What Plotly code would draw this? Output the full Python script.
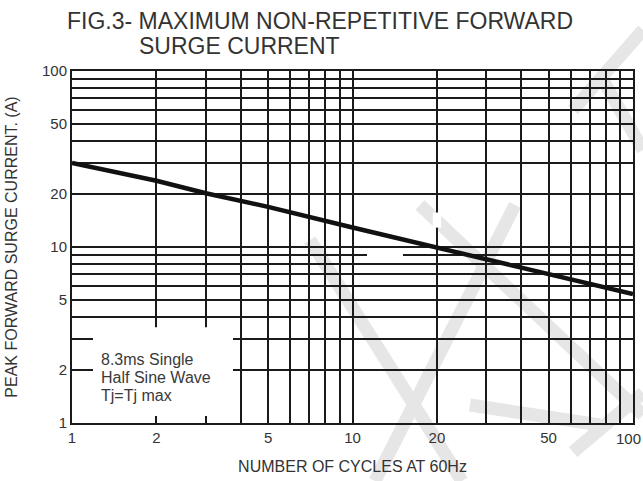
import plotly.graph_objects as go

# Data
cycles = [1, 2, 3, 5, 10, 20, 50, 100]
surge_current = [30, 23.8, 20.2, 16.9, 12.9, 9.9, 7.0, 5.4]

grid_vals = [1, 2, 3, 4, 5, 6, 7, 8, 9, 10, 20, 30, 40, 50, 60, 70, 80, 90, 100]
x_labels = ["1", "2", "", "", "5", "", "", "", "", "10", "20", "", "", "50", "", "", "", "", ""]
x_last_label = "100"
y_labels = ["1", "2", "", "", "5", "", "", "", "", "10", "20", "", "", "50", "", "", "", "", "100"]

title_line1 = "FIG.3- MAXIMUM NON-REPETITIVE FORWARD"
title_line2 = "SURGE CURRENT"
x_title = "NUMBER OF CYCLES AT 60Hz"
y_title = "PEAK FORWARD SURGE CURRENT. (A)"
note_lines = ["8.3ms Single", "Half Sine Wave", "Tj=Tj max"]

W, H = 643, 481
L, R, T, B = 72, 10, 71, 58
PW, PH = W - L - R, H - T - B


def px(x):
    return (x - L) / PW


def py(y):
    return (H - B - y) / PH


FONT = "Liberation Sans, Arial, sans-serif"
TXT = "#333333"

fig = go.Figure()
fig.add_trace(go.Scatter(x=cycles, y=surge_current, mode="lines",
                         line=dict(color="#111111", width=4.5),
                         hoverinfo="skip", showlegend=False))

axis_common = dict(
    type="log", range=[0, 2], tickvals=grid_vals, automargin=False,
    showgrid=True, gridcolor="#1a1a1a", gridwidth=2,
    showline=True, linecolor="#1a1a1a", linewidth=2, mirror=True,
    ticks="", zeroline=False, fixedrange=True, ticklabeloverflow="allow",
    tickfont=dict(family=FONT, size=15, color=TXT),
)

fig.update_xaxes(ticktext=x_labels, title=dict(text=x_title, font=dict(family=FONT, size=16, color=TXT), standoff=16), **axis_common)
fig.update_yaxes(ticktext=y_labels, title=dict(text=y_title, font=dict(family=FONT, size=16, color=TXT), standoff=20), **axis_common)

shapes = []
# watermark strokes (light gray, below grid)
wm = [
    ((310, 240), (462, 481)),
    ((515, 205), (375, 481)),
    ((420, 205), (643, 415)),
    ((573, 452), (643, 393)),
    ((470, 405), (600, 425)),
    ((643, 30), (573, 110)),
    ((600, 75), (643, 150)),
]
for (x0, y0), (x1, y1) in wm:
    shapes.append(dict(type="line", xref="paper", yref="paper",
                       x0=px(x0), y0=py(y0), x1=px(x1), y1=py(y1),
                       line=dict(color="#e6e6e6", width=13), layer="below"))

# white box behind the note
shapes.append(dict(type="rect", xref="paper", yref="paper",
                   x0=px(93), x1=0.287, y0=py(416), y1=0.272,
                   fillcolor="white", line=dict(width=0), layer="above"))
# small gaps in grid lines seen in the reference
shapes.append(dict(type="rect", xref="paper", yref="paper",
                   x0=px(367), x1=px(403), y0=0.470, y1=0.485,
                   fillcolor="white", line=dict(width=0), layer="above"))
shapes.append(dict(type="rect", xref="paper", yref="paper",
                   x0=0.643, x1=0.658, y0=0.555, y1=0.598,
                   fillcolor="white", line=dict(width=0), layer="above"))

annotations = [
    dict(text=title_line1, xref="paper", yref="paper", x=px(65), y=py(21), xanchor="left", yanchor="middle",
         showarrow=False, font=dict(family=FONT, size=23, color=TXT)),
    dict(text=title_line2, xref="paper", yref="paper", x=px(137), y=py(46), xanchor="left", yanchor="middle",
         showarrow=False, font=dict(family=FONT, size=23, color=TXT)),
    # last x tick label, kept inside the page edge
    dict(text=x_last_label, xref="paper", yref="paper", x=px(643), y=py(438), xanchor="right", yanchor="middle",
         showarrow=False, font=dict(family=FONT, size=15, color=TXT)),
]
for i, t in enumerate(note_lines):
    annotations.append(dict(text=t, xref="paper", yref="paper", x=px(99), y=py(359 + 18 * i),
                            xanchor="left", yanchor="middle", showarrow=False,
                            font=dict(family=FONT, size=16, color="#3a3a3a")))

fig.update_layout(
    width=W, height=H,
    margin=dict(l=L, r=R, t=T, b=B, pad=0, autoexpand=False),
    paper_bgcolor="white", plot_bgcolor="white",
    shapes=shapes, annotations=annotations,
    showlegend=False,
)

fig.write_html("out.html", config={"displayModeBar": False})

# remove the default page margin so the figure sits at the window origin
with open("out.html", "r", encoding="utf-8") as f:
    html = f.read()
html = html.replace("<head>", "<head><style>html,body{margin:0;padding:0;overflow:hidden;}</style>", 1)
with open("out.html", "w", encoding="utf-8") as f:
    f.write(html)
